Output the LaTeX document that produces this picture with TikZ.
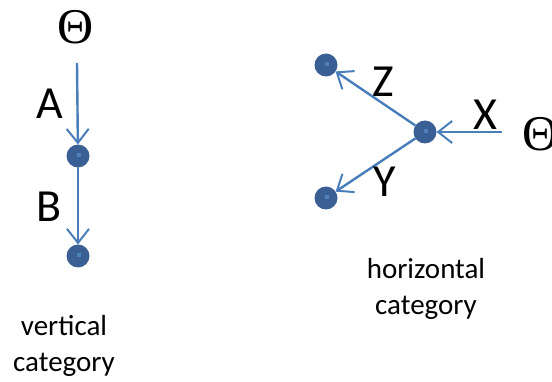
\documentclass[tikz,border=0pt]{standalone}
\usepackage{fontspec}
\setmainfont{Carlito}
\newfontfamily\serifth{Liberation Serif}
\usetikzlibrary{arrows.meta}
\definecolor{linec}{HTML}{4A7EBB}
\definecolor{dotc}{HTML}{3A5F94}
\definecolor{dotin}{HTML}{4F81BD}
\begin{document}
\begin{tikzpicture}[x=1pt,y=-1pt,
  dot/.style={circle,fill=dotc,minimum size=23pt,inner sep=0pt,outer sep=0pt,
    path picture={\fill[dotin] ([xshift=-1.5pt,yshift=-1.5pt]path picture bounding box.center) rectangle ++(4pt,4pt);}},
  conn/.style={draw=linec,line width=2.4pt,-{Straight Barb[length=14pt,width=22pt,line width=2pt]}},
  lbl/.style={font=\fontsize{46}{50}\selectfont,inner sep=0pt},
  th/.style={font=\serifth\fontsize{50}{54}\selectfont,inner sep=0pt},
  cat/.style={font=\fontsize{29}{36}\selectfont,align=center,inner sep=0pt}]
\useasboundingbox (0,0) rectangle (552,382);
% vertical category
\node[th] (th1) at (76,27) {Θ};
\coordinate (s1) at (77,63);
\node[dot] (v1) at (78,156) {};
\node[dot] (v2) at (78,256) {};
\draw[conn] (s1) -- (v1);
\draw[conn] (v1) -- (v2);
\node[lbl] (A) at (50,104) {A};
\node[lbl] (B) at (49,207) {B};
\node[cat] (vc) at (64,346) {vertical\\category};
% horizontal category
\node[dot] (h0) at (425,132) {};
\node[dot] (hz) at (326,65) {};
\node[dot] (hy) at (326,198) {};
\coordinate (s2) at (502,132);
\draw[conn] (s2) -- (h0);
\draw[conn] (h0) -- (hz);
\draw[conn] (h0) -- (hy);
\node[th] (th2) at (541,134) {Θ};
\node[lbl] (Z) at (383,82) {Z};
\node[lbl] (X) at (485,115) {X};
\node[lbl] (Y) at (385,182) {Y};
\node[cat] (hc) at (426,289) {horizontal\\category};
\end{tikzpicture}
\end{document}
